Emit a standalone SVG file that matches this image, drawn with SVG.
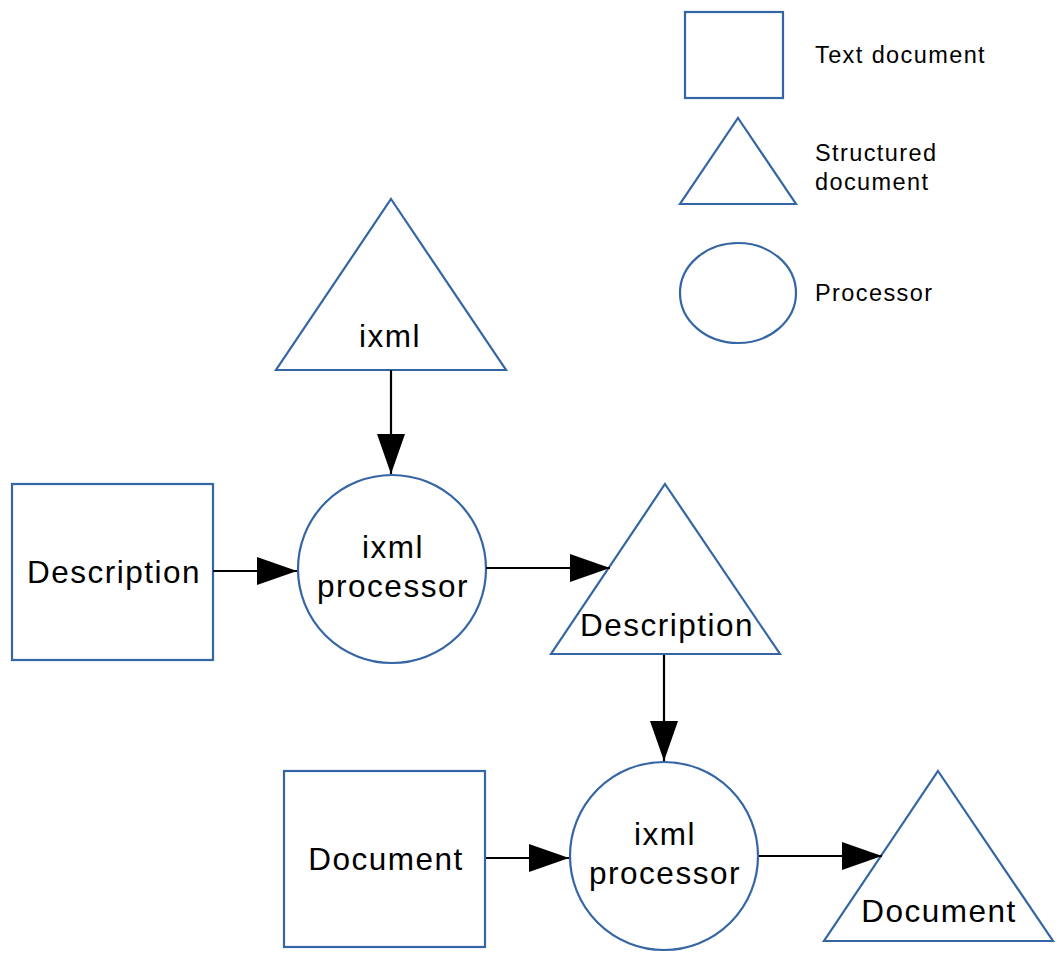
<svg xmlns="http://www.w3.org/2000/svg" width="1059" height="956" viewBox="0 0 1059 956">
<style>
.s{fill:#fff;stroke:#3465a4;stroke-width:2.2}
.t{font-family:"Liberation Sans",Arial,sans-serif;font-size:31.5px;letter-spacing:1.5px;fill:#000;text-anchor:middle}
.l{font-family:"Liberation Sans",Arial,sans-serif;font-size:23.5px;letter-spacing:1.4px;fill:#000}
.c{stroke:#000;stroke-width:2.2;fill:none}
</style>
<defs>
<marker id="b" viewBox="0 0 40 28" refX="40" refY="14" markerWidth="40" markerHeight="28" orient="auto" markerUnits="userSpaceOnUse"><path d="M0,0L40,14L0,28z" fill="#000"/></marker></defs>
<g id="legend">
<rect class="s" x="685" y="12" width="98" height="86"/>
<polygon class="s" points="738,118 796,204 680,204"/>
<ellipse class="s" cx="738" cy="293" rx="58" ry="50"/>
<text class="l" x="815" y="63">Text document</text>
<text class="l" x="815" y="161">Structured</text>
<text class="l" x="815" y="190">document</text>
<text class="l" x="815" y="301">Processor</text>
</g>
<g id="ixml"><polygon class="s" points="391,199 506,370 276,370"/><text class="t" x="390" y="347">ixml</text></g>
<g id="desc1"><rect class="s" x="12" y="484" width="201" height="176"/><text class="t" x="114" y="583">Description</text></g>
<g id="proc1"><circle class="s" cx="392" cy="569" r="94"/><text class="t" x="393" y="558">ixml</text><text class="t" x="393" y="597">processor</text></g>
<g id="desc2"><polygon class="s" points="665,484 780,654 551,654"/><text class="t" x="667" y="636">Description</text></g>
<g id="doc1"><rect class="s" x="284" y="771" width="201" height="176"/><text class="t" x="386" y="870">Document</text></g>
<g id="proc2"><circle class="s" cx="664" cy="856" r="94"/><text class="t" x="665" y="845">ixml</text><text class="t" x="665" y="884">processor</text></g>
<g id="doc2"><polygon class="s" points="938,771 1053,941 824,941"/><text class="t" x="939" y="922">Document</text></g>
<g id="connectors">
<line class="c" x1="391" y1="370" x2="391" y2="474" marker-end="url(#b)"/>
<line class="c" x1="213" y1="571" x2="297" y2="571" marker-end="url(#b)"/>
<line class="c" x1="486" y1="568" x2="610" y2="568" marker-end="url(#b)"/>
<line class="c" x1="664" y1="655" x2="664" y2="761" marker-end="url(#b)"/>
<line class="c" x1="486" y1="858" x2="569" y2="858" marker-end="url(#b)"/>
<line class="c" x1="759" y1="856" x2="882" y2="856" marker-end="url(#b)"/>
</g>
</svg>
